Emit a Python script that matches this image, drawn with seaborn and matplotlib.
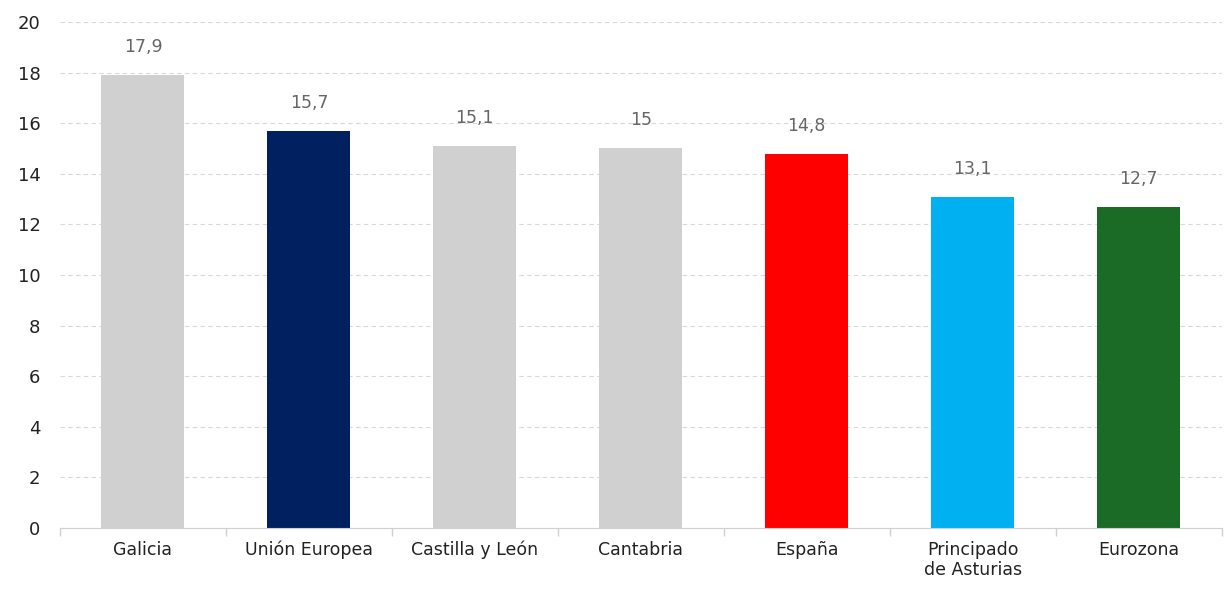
import numpy as np
import pandas as pd
import seaborn as sns
import matplotlib.pyplot as plt

categories = ["Galicia", "Unión Europea", "Castilla y León", "Cantabria",
              "España", "Principado\nde Asturias", "Eurozona"]
values = [17.9, 15.7, 15.1, 15.0, 14.8, 13.1, 12.7]
labels = ["17,9", "15,7", "15,1", "15", "14,8", "13,1", "12,7"]
colors = ["#d0d0d0", "#002060", "#d0d0d0", "#d0d0d0", "#ff0000", "#00b0f0", "#1b6b27"]

df = pd.DataFrame({"cat": categories, "val": values})

sns.set_style("white")
plt.rcParams['font.family'] = ['DejaVu Sans']

fig = plt.figure(figsize=(12.24, 5.92), dpi=100)
ax = fig.add_axes([0.049, 0.108, 0.949, 0.855])

sns.barplot(data=df, x="cat", y="val", hue="cat", palette=colors, legend=False,
            width=0.5, saturation=1, linewidth=0, ax=ax)

for i, (v, t) in enumerate(zip(values, labels)):
    ax.text(i, v + 0.75, t, ha="center", va="bottom", fontsize=12.5, color="#666666")

ax.set_ylim(0, 20)
ax.set_xlim(-0.5, len(categories) - 0.5)
ax.set_yticks(range(0, 21, 2))
ax.yaxis.grid(True, linestyle=(0, (4, 3)), color="#d9d9d9", linewidth=0.8)
ax.set_axisbelow(True)
ax.set_xlabel("")
ax.set_ylabel("")
for s in ["top", "right", "left"]:
    ax.spines[s].set_visible(False)
ax.spines["bottom"].set_color("#d0d0d0")
ax.tick_params(axis="y", length=0, labelsize=13, colors="#222222", pad=14)
ax.tick_params(axis="x", which="major", bottom=False, length=0, labelsize=12.5,
               colors="#222222", pad=9)
ax.set_xticks(np.arange(-0.5, len(categories), 1), minor=True)
ax.tick_params(axis="x", which="minor", bottom=True, length=6, width=1, color="#d0d0d0")

fig.savefig("out.png", dpi=100)
